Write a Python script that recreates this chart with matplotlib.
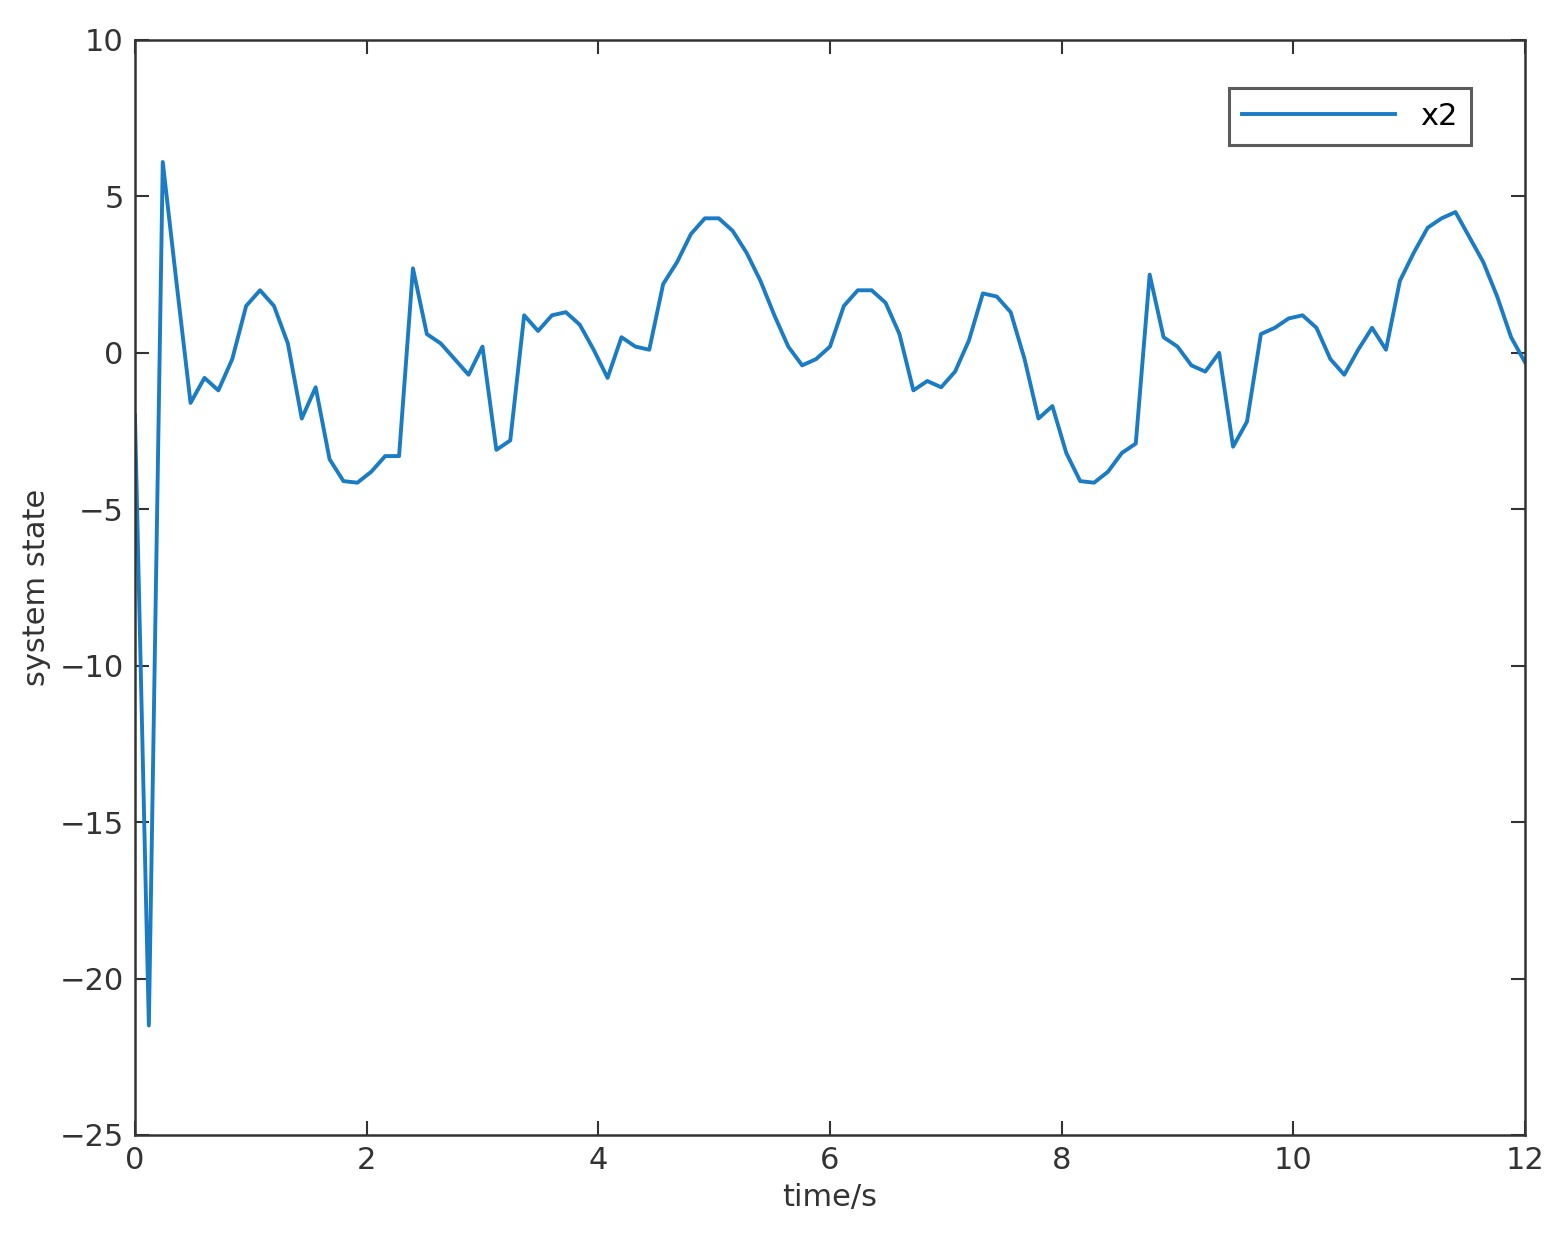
import numpy as np
import matplotlib.pyplot as plt

# sampled every 0.12 s
t = np.linspace(0, 12, 101)
x2 = [-2.0, -21.5, 6.1, 2.2, -1.6, -0.8, -1.2, -0.2, 1.5, 2.0,
      1.5, 0.3, -2.1, -1.1, -3.4, -4.1, -4.15, -3.8, -3.3, -3.3,
      2.7, 0.6, 0.3, -0.2, -0.7, 0.2, -3.1, -2.8, 1.2, 0.7,
      1.2, 1.3, 0.9, 0.1, -0.8, 0.5, 0.2, 0.1, 2.2, 2.9,
      3.8, 4.3, 4.3, 3.9, 3.2, 2.3, 1.2, 0.2, -0.4, -0.2,
      0.2, 1.5, 2.0, 2.0, 1.6, 0.6, -1.2, -0.9, -1.1, -0.6,
      0.4, 1.9, 1.8, 1.3, -0.2, -2.1, -1.7, -3.2, -4.1, -4.15,
      -3.8, -3.2, -2.9, 2.5, 0.5, 0.2, -0.4, -0.6, 0.0, -3.0,
      -2.2, 0.6, 0.8, 1.1, 1.2, 0.8, -0.2, -0.7, 0.1, 0.8,
      0.1, 2.3, 3.2, 4.0, 4.3, 4.5, 3.7, 2.9, 1.8, 0.5, -0.3]

fig = plt.figure(figsize=(15.62, 12.46), dpi=100)
ax = fig.add_axes([0.0864, 0.0891, 0.8899, 0.8788])
ax.plot(t, x2, color='#1a7cc4', lw=2.8, label='x2')
ax.set_xlim(0, 12)
ax.set_ylim(-25, 10)
ax.set_xticks(range(0, 13, 2))
ax.set_yticks(range(-25, 11, 5))
ax.set_yticklabels(['\u221225', '\u221220', '\u221215', '\u221210', '\u22125', '0', '5', '10'])
ax.tick_params(direction='in', length=10, width=1.5, top=True, right=True,
               labelsize=22, colors='#333333', pad=8)
for s in ax.spines.values():
    s.set_linewidth(1.8)
    s.set_color('#333333')
ax.set_xlabel('time/s', fontsize=22, color='#333333', labelpad=6)
ax.set_ylabel('system state', fontsize=22, color='#333333', labelpad=6)
leg = ax.legend(loc='upper right', bbox_to_anchor=(0.972, 0.97), fontsize=22,
                fancybox=False, handlelength=5.0, borderpad=0.45)
leg.get_frame().set_edgecolor('#333333')
leg.get_frame().set_linewidth(2.2)
fig.savefig('out.png')
